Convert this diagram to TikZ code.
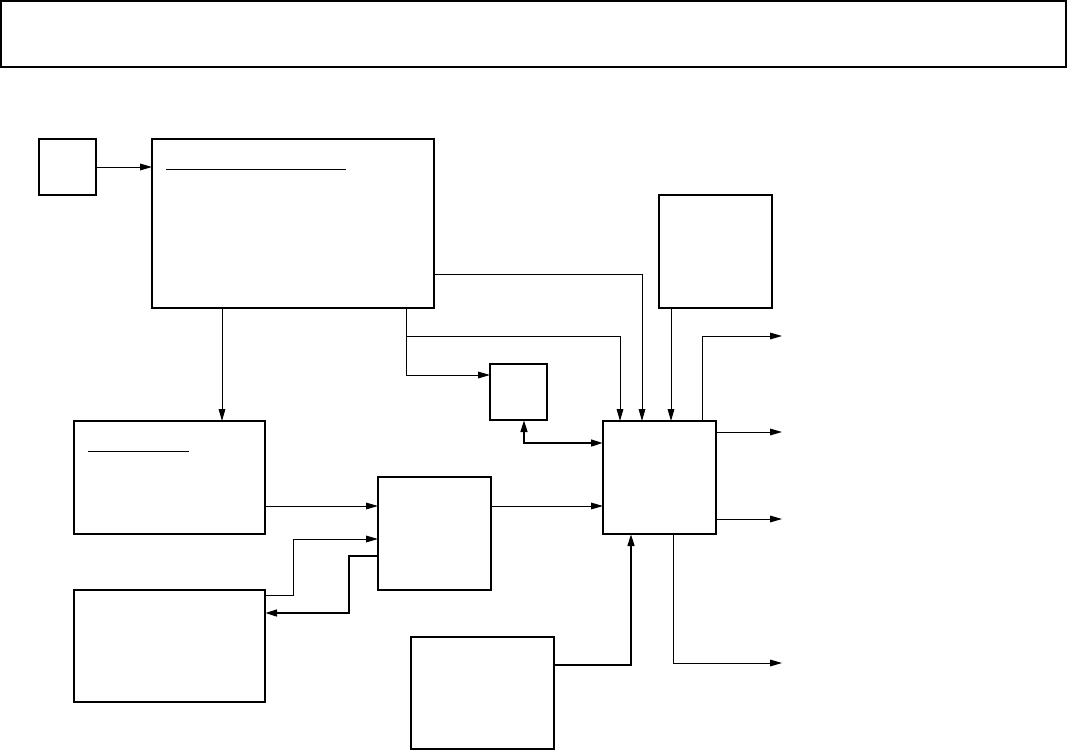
\documentclass[tikz,border=0pt]{standalone}
\usetikzlibrary{arrows.meta}
\begin{document}
\begin{tikzpicture}[x=0.75pt,y=-0.75pt,
  box/.style={draw, line width=0.9pt, inner sep=0pt, outer sep=0pt, anchor=north west},
  tbox/.style={box, line width=1.3pt},
  sz/.style 2 args={minimum width=#1*0.75pt, minimum height=#2*0.75pt},
  arr/.style={line width=0.75pt, -{Triangle[length=9pt,width=5pt]}},
  tarr/.style={line width=1.8pt, -{Triangle[length=9pt,width=5pt]}},
  ln/.style={line width=0.75pt}]
\useasboundingbox (0,0) rectangle (1068,750);
% header
\node[box, sz={1065}{66}] (hdr) at (1,1) {};
\draw[line width=2pt] (hdr.south west) -- (hdr.south east);
% boxes
\node[box, sz={57}{56}] (A) at (39,139) {};
\node[tbox, sz={282}{169}] (B) at (152,139) {};
\node[tbox, sz={191}{113}] (C) at (74,421) {};
\node[box, sz={57}{56}] (D) at (490,364) {};
\draw[line width=1.8pt] (D.south west) -- (D.south east);
\node[tbox, sz={113}{113}] (E) at (603,421) {};
\node[box, sz={113}{113}] (F) at (659,195) {};
\node[box, sz={113}{113}] (G) at (378,477) {};
\node[box, sz={191}{112}] (H) at (74,590) {};
\node[tbox, sz={143}{112}] (I) at (411,637) {};
% underlines inside boxes
\coordinate (ulB1) at (166,169); \coordinate (ulB2) at (346,169);
\draw[ln] (ulB1) -- (ulB2);
\coordinate (ulC1) at (88,451); \coordinate (ulC2) at (189,451);
\draw[ln] (ulC1) -- (ulC2);
% output points
\coordinate (o1) at (782,336);
\coordinate (o2) at (782,432);
\coordinate (o3) at (782,519);
\coordinate (o4) at (782,663);
% connectors
\draw[arr] (A.east |- 0,167) -- (B.west |- 0,167);
\draw[arr] (B.south -| 222,0) -- (C.north -| 222,0);
\draw[arr] (B.east |- 0,274) -| (E.north -| 642,0);
\draw[arr] (B.south -| 406,0) |- (D.west |- 0,375);
\draw[arr] (406,336) -| (E.north -| 620,0);
\draw[arr] (F.south -| 671,0) -- (E.north -| 671,0);
\draw[arr] (E.north -| 702,0) |- (o1);
\draw[arr] (E.east |- o2) -- (o2);
\draw[arr] (E.east |- o3) -- (o3);
\draw[arr] (E.south -| 673,0) |- (o4);
\draw[tarr, {Triangle[length=9pt,width=5pt]}-{Triangle[length=9pt,width=5pt]}] (D.south -| 524,0) |- (E.west |- 0,443);
\draw[arr] (C.east |- 0,506) -- (G.west |- 0,506);
\draw[arr] (G.east |- 0,506) -- (E.west |- 0,506);
\draw[arr] (H.east |- 0,595) -- (293,595) |- (G.west |- 0,539);
\draw[tarr] (G.west |- 0,556) -- (349,556) |- (H.east |- 0,613);
\draw[tarr] (I.east |- 0,665) -| (E.south -| 631,0);
\end{tikzpicture}
\end{document}
